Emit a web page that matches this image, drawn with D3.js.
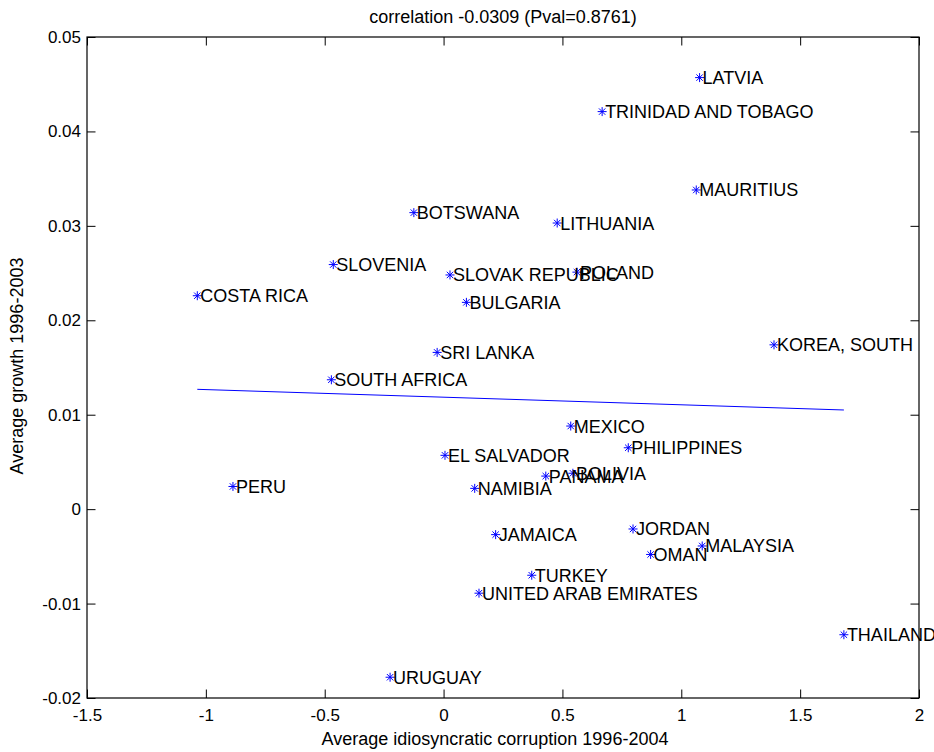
<!DOCTYPE html>
<html>
<head>
<meta charset="UTF-8">
<title>correlation scatter</title>
<style>
  body { margin: 0; background: #fff; }
  text { font-family: "Liberation Sans", Arial, Helvetica, sans-serif; }
</style>
</head>
<body>
<script src="https://cdn.jsdelivr.net/npm/d3@7"></script>
<script>
// country names and values
var countries = ["LATVIA", "TRINIDAD AND TOBAGO", "MAURITIUS", "BOTSWANA", "LITHUANIA",
  "SLOVENIA", "SLOVAK REPUBLIC", "POLAND", "COSTA RICA", "BULGARIA", "SRI LANKA",
  "KOREA, SOUTH", "SOUTH AFRICA", "MEXICO", "PHILIPPINES", "EL SALVADOR", "PANAMA",
  "BOLIVIA", "PERU", "NAMIBIA", "JORDAN", "JAMAICA", "MALAYSIA", "OMAN", "TURKEY",
  "UNITED ARAB EMIRATES", "THAILAND", "URUGUAY"];
var corruption = [1.077, 0.667, 1.063, -0.125, 0.478,
  -0.464, 0.027, 0.561, -1.036, 0.096, -0.027,
  1.390, -0.472, 0.535, 0.777, 0.006, 0.430,
  0.544, -0.886, 0.131, 0.797, 0.219, 1.088, 0.871, 0.371,
  0.149, 1.684, -0.225];
var growth = [0.0457, 0.0421, 0.0338, 0.0314, 0.0303,
  0.0259, 0.0248, 0.0251, 0.0226, 0.0219, 0.0166,
  0.0174, 0.0137, 0.0088, 0.0065, 0.0057, 0.0035,
  0.0038, 0.0024, 0.0022, -0.0021, -0.0027, -0.0039, -0.0048, -0.0070,
  -0.0089, -0.0133, -0.0178];
// fitted line endpoints
var fitX = [-1.036, 1.684];
var fitY = [0.01269, 0.0105];
// ticks
var xTicks = [-1.5, -1, -0.5, 0, 0.5, 1, 1.5, 2];
var yTicks = [-0.02, -0.01, 0, 0.01, 0.02, 0.03, 0.04, 0.05];

var width = 934, height = 752;
var pLeft = 87, pRight = 919, pTop = 37, pBottom = 698;

var svg = d3.select("body").append("svg")
  .attr("width", width)
  .attr("height", height);

var x = d3.scaleLinear().domain([-1.5, 2]).range([pLeft, pRight]);
var y = d3.scaleLinear().domain([-0.02, 0.05]).range([pBottom, pTop]);

function fmt(d) { return String(+d.toFixed(2)); }

// axes, ticks pointing inward
var tick = 8.5;
function style(g, noLabels) {
  g.select(".domain").remove();
  g.selectAll(".tick line").attr("stroke", "#000").attr("stroke-width", 1);
  g.selectAll(".tick text").attr("fill", "#000").style("font-size", "17px");
  if (noLabels) g.selectAll(".tick text").remove();
}
svg.append("g").attr("transform", "translate(0," + pBottom + ")")
  .call(d3.axisBottom(x).tickValues(xTicks).tickFormat(fmt).tickSize(-tick).tickPadding(tick + 2))
  .call(function(g) { style(g, false); });
svg.append("g").attr("transform", "translate(0," + pTop + ")")
  .call(d3.axisTop(x).tickValues(xTicks).tickSize(-tick))
  .call(function(g) { style(g, true); });
svg.append("g").attr("transform", "translate(" + pLeft + ",0)")
  .call(d3.axisLeft(y).tickValues(yTicks).tickFormat(fmt).tickSize(-tick).tickPadding(6))
  .call(function(g) { style(g, false); });
svg.append("g").attr("transform", "translate(" + pRight + ",0)")
  .call(d3.axisRight(y).tickValues(yTicks).tickSize(-tick))
  .call(function(g) { style(g, true); });

// box
svg.append("rect")
  .attr("x", pLeft).attr("y", pTop)
  .attr("width", pRight - pLeft).attr("height", pBottom - pTop)
  .attr("fill", "none").attr("stroke", "#000").attr("stroke-width", 1.2);

// fitted line
svg.append("line")
  .attr("x1", x(fitX[0])).attr("y1", y(fitY[0]))
  .attr("x2", x(fitX[1])).attr("y2", y(fitY[1]))
  .attr("stroke", "#0000ff").attr("stroke-width", 1);

// star markers and labels
var pts = countries.map(function(c, i) { return { name: c, cx: corruption[i], gy: growth[i] }; });
var g = svg.append("g");
var s = 4.5, d = 3.2;
var star = "M" + (-s) + ",0H" + s + "M0," + (-s) + "V" + s +
  "M" + (-d) + "," + (-d) + "L" + d + "," + d + "M" + (-d) + "," + d + "L" + d + "," + (-d);
g.selectAll("path.pt").data(pts).enter().append("path")
  .attr("class", "pt")
  .attr("transform", function(p) { return "translate(" + x(p.cx) + "," + y(p.gy) + ")"; })
  .attr("d", star)
  .attr("stroke", "#0000ff").attr("stroke-width", 1).attr("fill", "none");
g.selectAll("text.lbl").data(pts).enter().append("text")
  .attr("class", "lbl")
  .attr("x", function(p) { return x(p.cx) + 3; })
  .attr("y", function(p) { return y(p.gy) + 6.5; })
  .style("font-size", "18px")
  .attr("fill", "#000")
  .text(function(p) { return p.name; });

// title and axis labels
svg.append("text").attr("x", 503).attr("y", 23)
  .attr("text-anchor", "middle").style("font-size", "18px")
  .text("correlation -0.0309 (Pval=0.8761)");
svg.append("text").attr("x", 495).attr("y", 745)
  .attr("text-anchor", "middle").style("font-size", "18px")
  .text("Average idiosyncratic corruption 1996-2004");
svg.append("text")
  .attr("transform", "translate(23,366) rotate(-90)")
  .attr("text-anchor", "middle").style("font-size", "18px")
  .text("Average growth 1996-2003");
</script>
</body>
</html>
